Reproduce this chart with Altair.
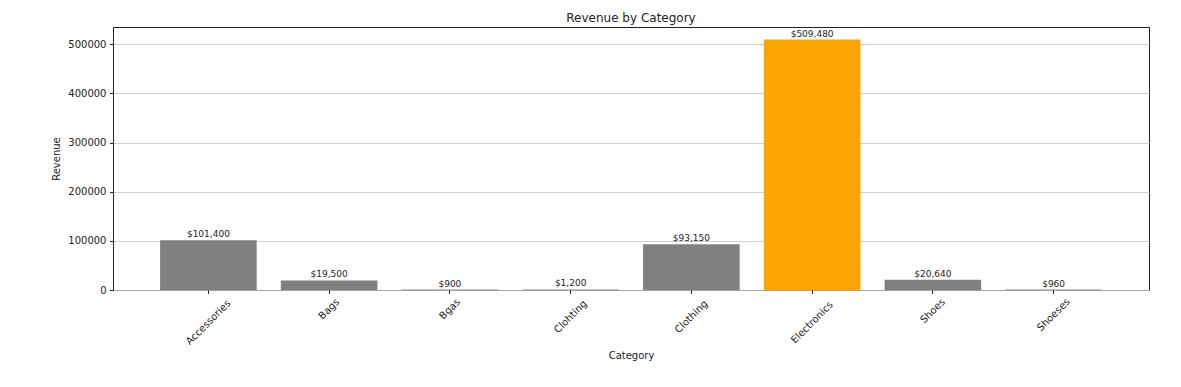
import altair as alt
import pandas as pd

categories = ["Accessories", "Bags", "Bgas", "Clohting", "Clothing", "Electronics", "Shoes", "Shoeses"]
revenue = [101400, 19500, 900, 1200, 93150, 509480, 20640, 960]
y_ticks = [0, 100000, 200000, 300000, 400000, 500000]

df = pd.DataFrame({"category": categories, "revenue": revenue})

W, H = 1036, 263
FONT = "DejaVu Sans"
TXT = "#222222"

x_enc = alt.X(
    "category:N",
    sort=categories,
    scale=alt.Scale(paddingInner=0.2, paddingOuter=0.39),
    axis=alt.Axis(
        labels=False, domain=False, ticks=True, tickSize=3.5, tickColor=TXT,
        grid=False, title="Category", titleFont=FONT, titleFontSize=10,
        titleFontWeight="normal", titleColor=TXT, titleX=W / 2, titleY=65,
        titleAlign="center", titleBaseline="middle",
    ),
)

y_enc = alt.Y(
    "revenue:Q",
    scale=alt.Scale(domain=[0, 534954], nice=False, zero=True),
    axis=alt.Axis(
        values=y_ticks, format="d", domain=False, tickSize=3.5, tickColor=TXT,
        labelPadding=3.5, labelFont=FONT, labelFontSize=10, labelColor=TXT,
        grid=True, gridColor="#c4c4c4", gridWidth=0.8,
        title="Revenue", titleFont=FONT, titleFontSize=10, titleFontWeight="normal",
        titleColor=TXT, titleAngle=-90, titleX=-57, titleY=H / 2,
        titleAlign="center", titleBaseline="middle",
    ),
)

base = alt.Chart(df)

bars = base.mark_bar().encode(
    x=x_enc,
    y=y_enc,
    color=alt.condition(alt.datum.category == "Electronics", alt.value("#FFA500"), alt.value("#808080")),
)

value_labels = base.transform_calculate(
    lab="'$' + format(datum.revenue, ',')"
).mark_text(
    baseline="bottom", align="center", dy=-1, fontSize=9, font=FONT, color=TXT
).encode(
    x=alt.X("category:N", sort=categories),
    y=alt.Y("revenue:Q"),
    text="lab:N",
)

# rotated tick labels: bounding box centred under the tick, top just below it
shift = "(length(datum.category) * 5.4 + 10) / 4"
x_labels = base.mark_text(
    angle=315, align="center", baseline="middle", fontSize=10, font=FONT, color=TXT,
    dx=alt.ExprRef(expr="-" + shift),
    dy=alt.ExprRef(expr=shift),
).encode(
    x=alt.X("category:N", sort=categories),
    y=alt.value(H + 8),
    text="category:N",
)

chart = alt.layer(bars, value_labels, x_labels).properties(
    width=W,
    height=H,
    background="white",
    title=alt.TitleParams(
        "Revenue by Category", font=FONT, fontSize=12, fontWeight="normal",
        color=TXT, anchor="middle", frame="group", baseline="bottom", offset=4, dy=14,
    ),
    autosize=alt.AutoSizeParams(type="none"),
    padding={"left": 105, "top": 19, "right": 24, "bottom": 89},
).configure_view(
    stroke="#222222", strokeWidth=1
)

chart.save("out.html", embed_options={"renderer": "svg", "actions": False})
